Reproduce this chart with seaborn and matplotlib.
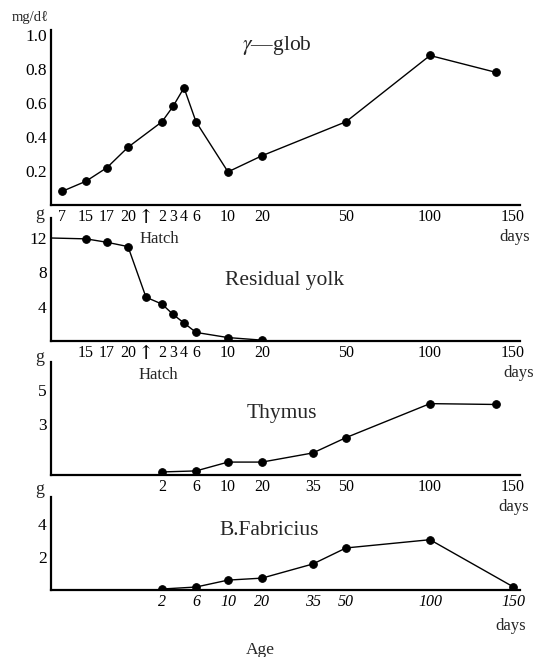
import numpy as np
import pandas as pd
import seaborn as sns
import matplotlib
matplotlib.use("Agg")
import matplotlib.pyplot as plt

# age in days relative to hatch (embryonic day e -> e - 21)
glob_age = [-14, -6, -4, -1, 2, 3, 4, 6, 10, 20, 50, 100, 140]
glob_val = [0.08, 0.14, 0.22, 0.34, 0.49, 0.58, 0.69, 0.49, 0.195, 0.29, 0.49, 0.88, 0.78]

yolk_age = [-18, -6, -4, -1, 0, 2, 3, 4, 6, 10, 20]
yolk_val = [12.0, 11.9, 11.5, 11.0, 5.1, 4.3, 3.1, 2.1, 1.0, 0.4, 0.1]

thymus_age = [2, 6, 10, 20, 35, 50, 100, 140]
thymus_val = [0.18, 0.24, 0.76, 0.76, 1.3, 2.2, 4.2, 4.15]

bf_age = [2, 6, 10, 20, 35, 50, 100, 150]
bf_val = [0.06, 0.18, 0.6, 0.72, 1.58, 2.55, 3.05, 0.2]

# hand-drawn, non-linear age axis of the original figure
AGE_KNOTS = np.array([-18, -14, -6, -4, -1, 0, 2, 3, 4, 6, 10, 20, 35, 50, 100, 150, 154])
POS_KNOTS = np.array([51, 62, 86, 107, 128, 146, 162, 173, 184, 196, 228, 262, 313, 346, 430, 513, 520])


def fwd(a):
    return np.interp(a, AGE_KNOTS, POS_KNOTS)


def inv(p):
    return np.interp(p, POS_KNOTS, AGE_KNOTS)


sns.set_style("white")
plt.rcParams['font.family'] = ['Liberation Serif', 'DejaVu Serif']
plt.rcParams['mathtext.fontset'] = 'stix'

fig = plt.figure(figsize=(5.42, 6.57), dpi=100)
W, H = 542, 657


def make_ax(top, bottom, ymax):
    ax = fig.add_axes([51 / W, (H - bottom) / H, 469 / W, (bottom - top) / H])
    ax.patch.set_alpha(0)
    ax.set_xscale('function', functions=(fwd, inv))
    ax.set_xlim(-18, 154)
    ax.set_ylim(0, ymax)
    for s in ['top', 'right']:
        ax.spines[s].set_visible(False)
    for s in ['left', 'bottom']:
        ax.spines[s].set_linewidth(1.6)
        ax.spines[s].set_color('black')
    ax.tick_params(direction='in', length=4, width=1, colors='black', labelsize=11.5, pad=3)
    ax.tick_params(axis='y', labelsize=12.5)
    ax.minorticks_off()
    return ax


def draw(ax, x, y, skip_first=False):
    d = pd.DataFrame({'age': x, 'val': y})
    sns.lineplot(data=d, x='age', y='val', ax=ax, color='black', linewidth=1.0,
                 marker='o', markersize=5.5, markeredgecolor='black',
                 markevery=slice(1 if skip_first else 0, None))
    ax.set_xlabel('')
    ax.set_ylabel('')


def note(ax, x, text, dx, dy, size=12):
    ax.annotate(text, xy=(x, 0), xycoords=('data', 'axes fraction'),
                xytext=(dx * 0.72, dy * 0.72), textcoords='offset points',
                ha='center', va='center', fontsize=size, annotation_clip=False)


def arrow_label(ax):
    for lab in ax.get_xticklabels():
        if lab.get_text() == '↑':
            lab.set_fontsize(14)
            lab.set_fontfamily(['DejaVu Serif'])


ax1 = make_ax(30, 205, 1.03)
draw(ax1, glob_age, glob_val)
ticks1 = [-14, -6, -4, -1, 0, 2, 3, 4, 6, 10, 20, 50, 100, 150]
labels1 = ['7', '15', '17', '20', '↑', '2', '3', '4', '6', '10', '20', '50', '100', '150']
ax1.set_xticks(ticks1, labels1)
arrow_label(ax1)
ax1.set_yticks([0.2, 0.4, 0.6, 0.8, 1.0], ['0.2', '0.4', '0.6', '0.8', '1.0'])
ax1.text(0.482, 0.914, r'$\gamma$—glob', transform=ax1.transAxes, ha='center', va='center', fontsize=15.5)
note(ax1, 0, 'Hatch', 13, -34)
note(ax1, 150, 'days', 2, -32)

ax2 = make_ax(218, 341, 14.33)
draw(ax2, yolk_age, yolk_val, skip_first=True)
ticks2 = [-6, -4, -1, 0, 2, 3, 4, 6, 10, 20, 50, 100, 150]
labels2 = ['15', '17', '20', '↑', '2', '3', '4', '6', '10', '20', '50', '100', '150']
ax2.set_xticks(ticks2, labels2)
arrow_label(ax2)
ax2.set_yticks([4, 8, 12], ['4', '8', '12'])
ax2.text(0.497, 0.488, 'Residual yolk', transform=ax2.transAxes, ha='center', va='center', fontsize=15.5)
note(ax2, 0, 'Hatch', 12, -34)
note(ax2, 150, 'days', 6, -32)

ax3 = make_ax(362, 475, 6.65)
draw(ax3, thymus_age, thymus_val)
ticks3 = [2, 6, 10, 20, 35, 50, 100, 150]
ax3.set_xticks(ticks3, [str(t) for t in ticks3])
ax3.set_yticks([1, 3, 5], ['', '3', '5'])
ax3.text(0.4925, 0.54, 'Thymus', transform=ax3.transAxes, ha='center', va='center', fontsize=15.5)
note(ax3, 150, 'days', 1, -32)

ax4 = make_ax(497, 590, 5.64)
draw(ax4, bf_age, bf_val)
ax4.set_xticks(ticks3, [str(t) for t in ticks3])
for lab in ax4.get_xticklabels():
    lab.set_style('italic')
ax4.set_yticks([2, 4], ['2', '4'])
ax4.text(0.465, 0.645, 'B.Fabricius', transform=ax4.transAxes, ha='center', va='center', fontsize=15.5)
note(ax4, 150, 'days', -2, -36)

fig.text(30 / W, 1 - 17 / H, 'mg/dℓ', ha='center', va='center', fontsize=10.5)
for yy in [215, 358, 490]:
    fig.text(40 / W, 1 - yy / H, 'g', ha='center', va='center', fontsize=13)
fig.text(260 / W, 1 - 650 / H, 'Age', ha='center', va='center', fontsize=12.5)

fig.savefig('out.png', dpi=100, facecolor='white')
